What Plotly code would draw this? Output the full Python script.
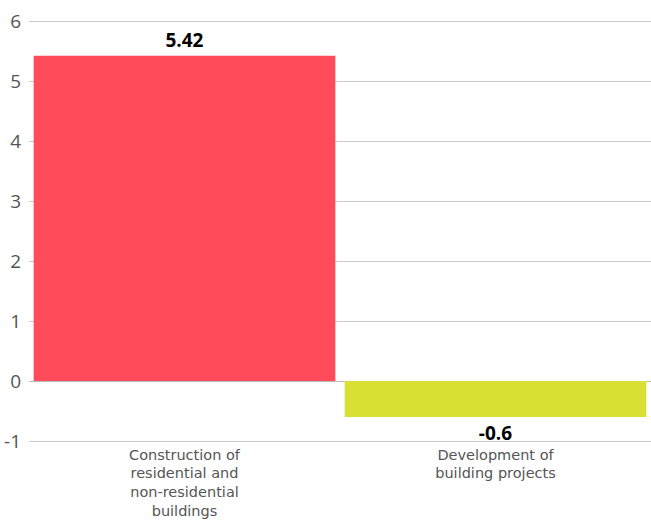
import plotly.graph_objects as go

categories = ["Construction of<br>residential and<br>non-residential<br>buildings",
              "Development of<br>building projects"]
values = [5.42, -0.6]
value_labels = ["5.42", "-0.6"]
colors = ["#FF4B5A", "#D9E034"]
y_ticks = [-1, 0, 1, 2, 3, 4, 5, 6]

fig = go.Figure(go.Bar(
    x=categories, y=values, marker_color=colors, marker_line_width=0,
    text=value_labels, textposition="outside", cliponaxis=False,
    textfont=dict(family="Open Sans", size=19, color="#000000", weight="bold"),
))

fig.update_layout(
    width=651, height=521,
    margin=dict(l=29, r=0, t=18, b=77, autoexpand=False),
    paper_bgcolor="white", plot_bgcolor="white",
    bargap=0.03, showlegend=False,
    font=dict(family="Open Sans", color="#555555"),
)
fig.update_xaxes(
    showgrid=False, showline=False, ticks="", automargin=False,
    tickfont=dict(family="DejaVu Sans", size=14.5, color="#555555"), ticklabelstandoff=0,
)
fig.update_yaxes(
    range=[-1.05, 6.05], tickvals=y_ticks, ticktext=[str(v) for v in y_ticks],
    showgrid=True, gridcolor="#CCCCCC", gridwidth=1, automargin=False,
    zeroline=True, zerolinecolor="#BBBBBB", zerolinewidth=1,
    tickfont=dict(size=19, color="#555555"), ticks="", ticklabelstandoff=7,
)

fig.write_html(
    "out.html",
    config={"displayModeBar": False},
    post_script="document.body.style.margin='0';document.body.style.overflow='hidden';",
)
